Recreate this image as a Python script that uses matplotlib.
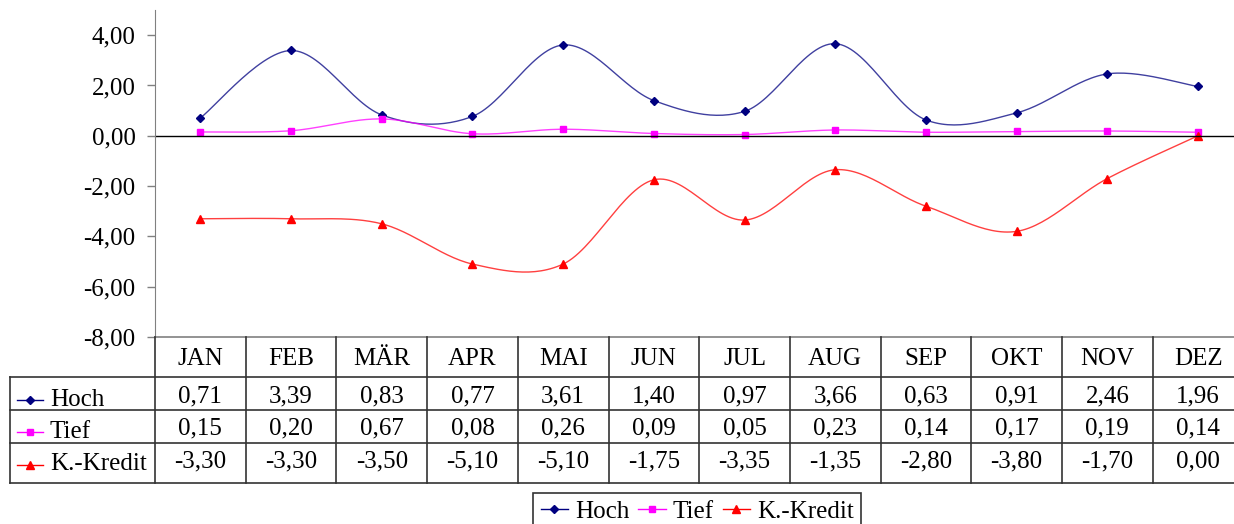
import matplotlib.pyplot as plt
import numpy as np

months = ['JAN', 'FEB', 'MÄR', 'APR', 'MAI', 'JUN', 'JUL', 'AUG', 'SEP', 'OKT', 'NOV', 'DEZ']
hoch = [0.71, 3.39, 0.83, 0.77, 3.61, 1.40, 0.97, 3.66, 0.63, 0.91, 2.46, 1.96]
tief = [0.15, 0.20, 0.67, 0.08, 0.26, 0.09, 0.05, 0.23, 0.14, 0.17, 0.19, 0.14]
kredit = [-3.30, -3.30, -3.50, -5.10, -5.10, -1.75, -3.35, -1.35, -2.80, -3.80, -1.70, 0.00]
series_names = ['Hoch', 'Tief', 'K.-Kredit']
yticks = [4, 2, 0, -2, -4, -6, -8]

plt.rcParams['font.family'] = ['Liberation Serif', 'DejaVu Serif']
FS = 18


def smooth(y, n=30):
    # excel-style smoothed line (catmull-rom bezier)
    y = np.asarray(y, dtype=float)
    x = np.arange(len(y), dtype=float)
    pts = np.column_stack([x, y])
    ext = np.vstack([pts[0], pts, pts[-1]])
    out = []
    t = np.linspace(0, 1, n)[:, None]
    for i in range(len(pts) - 1):
        p0, p3 = ext[i + 1], ext[i + 2]
        c1 = p0 + (ext[i + 2] - ext[i]) / 6
        c2 = p3 - (ext[i + 3] - ext[i + 1]) / 6
        seg = ((1 - t) ** 3) * p0 + 3 * ((1 - t) ** 2) * t * c1 + 3 * (1 - t) * t ** 2 * c2 + t ** 3 * p3
        out.append(seg)
    out = np.vstack(out)
    return out[:, 0], out[:, 1]


W, H = 1234, 524
fig = plt.figure(figsize=(W / 100, H / 100), dpi=100)
ax_left, ax_top, ax_bottom = 155, 10, 337
col_w = 90.7
ax_right = ax_left + col_w * len(months)
ax = fig.add_axes([ax_left / W, 1 - ax_bottom / H, (ax_right - ax_left) / W, (ax_bottom - ax_top) / H])

colors = ['#000080', '#FF00FF', '#FF0000']
markers = ['D', 's', '^']
msizes = [4, 5, 6]
handles = []
for vals, c, m, ms, name in zip([hoch, tief, kredit], colors, markers, msizes, series_names):
    sx, sy = smooth(vals)
    ax.plot(sx, sy, color=c, lw=1, alpha=0.75)
    ax.plot(range(len(vals)), vals, ls='none', marker=m, ms=ms, color=c)
    h, = ax.plot([], [], color=c, lw=1, marker=m, ms=ms, label=name)
    handles.append(h)

ax.axhline(0, color='black', lw=1)
ax.set_xlim(-0.5, len(months) - 0.5)
ax.set_ylim(-8, 5)
ax.set_yticks(yticks)
ax.set_yticklabels([f'{v:.2f}'.replace('.', ',') for v in yticks], fontsize=FS)
ax.set_xticks([])
for s in ['top', 'right', 'bottom']:
    ax.spines[s].set_visible(False)
ax.spines['left'].set_color('#808080')
ax.tick_params(axis='y', color='#808080', length=6, width=1, pad=8)

# data table under the chart
tr = fig.transFigure


def fx(px):
    return px / W


def fy(py):
    return 1 - py / H


row_y = [337, 377, 410, 443, 483]
line_c = '#333333'
fig.add_artist(plt.Line2D([fx(ax_left), fx(ax_right)], [fy(row_y[0])] * 2, color='#808080', lw=1.2, transform=tr))
for ry in row_y[1:]:
    fig.add_artist(plt.Line2D([fx(10), fx(ax_right)], [fy(ry)] * 2, color=line_c, lw=1.2, transform=tr))
for i in range(len(months) + 1):
    xp = ax_left + i * col_w
    fig.add_artist(plt.Line2D([fx(xp)] * 2, [fy(row_y[0]), fy(row_y[-1])], color=line_c, lw=1.2, transform=tr))
fig.add_artist(plt.Line2D([fx(10)] * 2, [fy(row_y[1]), fy(row_y[-1])], color=line_c, lw=1.2, transform=tr))

value_base = [402, 434, 467]
label_base = [406, 438, 470]
sym_y = [400, 432, 465]
for i, mo in enumerate(months):
    xc = ax_left + (i + 0.5) * col_w
    fig.text(fx(xc), fy(365), mo, ha='center', va='baseline', fontsize=FS)
    for r, vals in enumerate([hoch, tief, kredit]):
        txt = f'{vals[i]:.2f}'.replace('.', ',')
        fig.text(fx(xc), fy(value_base[r]), txt, ha='center', va='baseline', fontsize=FS)

for r, (name, c, m, ms) in enumerate(zip(series_names, colors, markers, msizes)):
    yc = sym_y[r]
    fig.add_artist(plt.Line2D([fx(17), fx(43)], [fy(yc)] * 2, color=c, lw=1, transform=tr))
    fig.add_artist(plt.Line2D([fx(30)], [fy(yc)], color=c, marker=m, ms=ms, transform=tr))
    fig.text(fx(50), fy(label_base[r]), name, ha='left', va='baseline', fontsize=FS)

leg = fig.legend(handles=handles, loc='upper left', bbox_to_anchor=(fx(533), fy(493)), ncol=3,
                 fontsize=FS, frameon=True, fancybox=False, edgecolor='black', handlelength=1.1,
                 handletextpad=0.28, columnspacing=0.35, borderpad=0.3, borderaxespad=0)
leg.get_frame().set_linewidth(1.2)

fig.savefig('out.png', dpi=100)
